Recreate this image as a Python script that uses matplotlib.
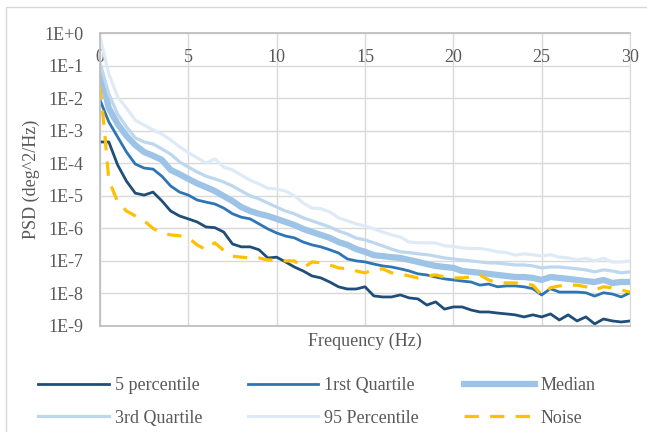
import matplotlib
matplotlib.use("Agg")
import matplotlib.pyplot as plt
from matplotlib.patches import Rectangle

# frequency grid (Hz)
freq = [0.0, 0.5, 1.0, 1.5, 2.0, 2.5, 3.0, 3.5, 4.0, 4.5,
        5.0, 5.5, 6.0, 6.5, 7.0, 7.5, 8.0, 8.5, 9.0, 9.5,
        10.0, 10.5, 11.0, 11.5, 12.0, 12.5, 13.0, 13.5, 14.0, 14.5,
        15.0, 15.5, 16.0, 16.5, 17.0, 17.5, 18.0, 18.5, 19.0, 19.5,
        20.0, 20.5, 21.0, 21.5, 22.0, 22.5, 23.0, 23.5, 24.0, 24.5,
        25.0, 25.5, 26.0, 26.5, 27.0, 27.5, 28.0, 28.5, 29.0, 29.5,
        30.0]

p5 = [4.5e-4, 4.5e-4, 8.8e-5, 2.8e-5, 1.2e-5, 1.05e-5, 1.3e-5, 7.0e-6, 3.4e-6, 2.4e-6,
      1.95e-6, 1.57e-6, 1.1e-6, 1.05e-6, 7.7e-7, 3.3e-7, 2.7e-7, 2.7e-7, 2.2e-7, 1.23e-7,
      1.3e-7, 9.3e-8, 6.5e-8, 4.9e-8, 3.45e-8, 3.0e-8, 2.25e-8, 1.6e-8, 1.37e-8, 1.37e-8,
      1.6e-8, 8.4e-9, 7.8e-9, 7.8e-9, 9.0e-9, 7.3e-9, 6.8e-9, 4.4e-9, 5.5e-9, 3.3e-9,
      3.85e-9, 3.85e-9, 3.1e-9, 2.7e-9, 2.7e-9, 2.5e-9, 2.35e-9, 2.2e-9, 1.9e-9, 2.2e-9,
      1.9e-9, 2.35e-9, 1.53e-9, 2.2e-9, 1.43e-9, 1.9e-9, 1.16e-9, 1.64e-9, 1.43e-9, 1.33e-9,
      1.43e-9]

q1 = [8.7e-3, 1.85e-3, 6.4e-4, 2.2e-4, 9.4e-5, 7.1e-5, 6.6e-5, 4.0e-5, 2.0e-5, 1.3e-5,
      1.05e-5, 7.4e-6, 6.4e-6, 5.6e-6, 4.2e-6, 2.8e-6, 2.2e-6, 1.95e-6, 1.37e-6, 9.6e-7,
      7.2e-7, 5.8e-7, 5.1e-7, 3.8e-7, 3.1e-7, 2.7e-7, 2.2e-7, 1.75e-7, 1.15e-7, 1.0e-7,
      9.3e-8, 8.0e-8, 7.0e-8, 6.5e-8, 5.7e-8, 4.9e-8, 4.0e-8, 3.7e-8, 3.2e-8, 2.8e-8,
      2.6e-8, 2.4e-8, 2.25e-8, 1.8e-8, 1.95e-8, 1.6e-8, 1.7e-8, 1.7e-8, 1.6e-8, 1.4e-8,
      9.0e-9, 1.4e-8, 1.1e-8, 1.1e-8, 1.1e-8, 1.05e-8, 8.3e-9, 1.05e-8, 9.6e-9, 7.8e-9,
      1.05e-8]

median = [7.0e-2, 4.9e-3, 1.6e-3, 6.9e-4, 3.6e-4, 2.2e-4, 1.7e-4, 1.27e-4, 6.2e-5, 4.6e-5,
          3.3e-5, 2.4e-5, 1.85e-5, 1.4e-5, 9.8e-6, 6.9e-6, 4.5e-6, 3.4e-6, 2.8e-6, 2.4e-6,
          1.95e-6, 1.57e-6, 1.27e-6, 9.6e-7, 7.7e-7, 6.3e-7, 5.1e-7, 3.8e-7, 3.1e-7, 2.3e-7,
          1.9e-7, 1.5e-7, 1.4e-7, 1.3e-7, 1.23e-7, 1.07e-7, 9.3e-8, 8.0e-8, 7.0e-8, 6.5e-8,
          6.1e-8, 4.9e-8, 4.6e-8, 4.3e-8, 4.0e-8, 3.7e-8, 3.45e-8, 3.2e-8, 3.2e-8, 3.0e-8,
          2.6e-8, 3.2e-8, 3.0e-8, 2.8e-8, 2.6e-8, 2.4e-8, 2.25e-8, 2.6e-8, 2.1e-8, 2.25e-8,
          2.25e-8]

q3 = [1.2e-1, 1.35e-2, 3.2e-3, 1.3e-3, 6.0e-4, 4.5e-4, 3.9e-4, 2.75e-4, 1.9e-4, 1.1e-4,
      7.6e-5, 5.4e-5, 4.0e-5, 3.3e-5, 2.65e-5, 2.0e-5, 1.4e-5, 1.0e-5, 8.0e-6, 6.0e-6,
      4.5e-6, 3.4e-6, 2.8e-6, 2.1e-6, 1.7e-6, 1.37e-6, 1.1e-6, 8.3e-7, 6.7e-7, 5.0e-7,
      4.4e-7, 3.6e-7, 2.9e-7, 2.3e-7, 1.9e-7, 1.8e-7, 1.65e-7, 1.55e-7, 1.4e-7, 1.23e-7,
      1.15e-7, 1.07e-7, 1.0e-7, 9.3e-8, 8.7e-8, 8.6e-8, 8.0e-8, 7.5e-8, 7.5e-8, 7.0e-8,
      6.1e-8, 6.5e-8, 6.5e-8, 6.1e-8, 5.7e-8, 5.3e-8, 4.6e-8, 5.3e-8, 4.9e-8, 4.3e-8,
      4.6e-8]

p95 = [7.5e-1, 5.5e-2, 1.1e-2, 4.9e-3, 2.1e-3, 1.48e-3, 1.05e-3, 7.9e-4, 5.2e-4, 3.2e-4,
       2.1e-4, 1.46e-4, 1.0e-4, 1.36e-4, 7.6e-5, 6.2e-5, 4.3e-5, 3.0e-5, 2.3e-5, 1.7e-5,
       1.6e-5, 1.4e-5, 1.0e-5, 6.0e-6, 4.2e-6, 4.0e-6, 3.2e-6, 2.1e-6, 1.7e-6, 1.37e-6,
       1.18e-6, 9.6e-7, 7.7e-7, 6.3e-7, 5.4e-7, 3.8e-7, 3.6e-7, 3.6e-7, 3.55e-7, 2.9e-7,
       2.8e-7, 2.5e-7, 2.4e-7, 2.4e-7, 2.2e-7, 1.9e-7, 1.8e-7, 1.5e-7, 1.65e-7, 1.55e-7,
       1.4e-7, 1.55e-7, 1.3e-7, 1.23e-7, 1.08e-7, 1.2e-7, 1.0e-7, 1.2e-7, 9.2e-8, 9.2e-8,
       1.0e-7]

noise_freq = [0.0, 0.25, 0.5, 1.0, 1.5, 2.0, 2.5, 3.0, 3.5, 4.0, 4.5,
              5.0, 5.5, 6.0, 6.5, 7.0, 7.5, 8.0, 8.5, 9.0, 9.5,
              10.0, 10.5, 11.0, 11.5, 12.0, 12.5, 13.0, 13.5, 14.0, 14.5,
              15.0, 15.5, 16.0, 16.5, 17.0, 17.5, 18.0, 18.5, 19.0, 19.5,
              20.0, 20.5, 21.0, 21.5, 22.0, 22.5, 23.0, 23.5, 24.0, 24.5,
              25.0, 25.5, 26.0, 26.5, 27.0, 27.5, 28.0, 28.5, 29.0, 29.5,
              30.0]
noise = [2.5e-2, 1.05e-3, 3.0e-5, 6.5e-6, 3.4e-6, 2.4e-6, 1.7e-6, 1.0e-6, 7.2e-7, 6.3e-7, 5.9e-7,
         5.1e-7, 3.1e-7, 2.2e-7, 3.6e-7, 2.1e-7, 1.4e-7, 1.3e-7, 1.23e-7, 1.23e-7, 1.07e-7,
         1.07e-7, 1.0e-7, 1.0e-7, 6.1e-8, 9.3e-8, 8.7e-8, 7.5e-8, 6.1e-8, 5.7e-8, 4.9e-8,
         4.3e-8, 5.3e-8, 5.7e-8, 4.3e-8, 4.0e-8, 3.45e-8, 3.0e-8, 3.45e-8, 3.7e-8, 3.2e-8,
         3.0e-8, 3.0e-8, 3.2e-8, 3.7e-8, 2.6e-8, 2.1e-8, 2.1e-8, 2.1e-8, 1.95e-8, 1.8e-8,
         9.0e-9, 1.5e-8, 1.7e-8, 1.8e-8, 1.8e-8, 1.6e-8, 1.28e-8, 1.6e-8, 1.5e-8, 1.28e-8,
         1.1e-8]

y_ticks = [1e0, 1e-1, 1e-2, 1e-3, 1e-4, 1e-5, 1e-6, 1e-7, 1e-8, 1e-9]
y_labels = ["1E+0", "1E-1", "1E-2", "1E-3", "1E-4", "1E-5", "1E-6", "1E-7", "1E-8", "1E-9"]
x_ticks = [0, 5, 10, 15, 20, 25, 30]

plt.rcParams['font.family'] = ['Liberation Serif', 'DejaVu Serif']
txt = '#595959'
fs = 13

fig = plt.figure(figsize=(6.47, 4.32), dpi=100)
fig.patches.append(Rectangle((6 / 647, -0.01), 1.0, 1.01 - 7 / 432, transform=fig.transFigure,
                             fill=False, edgecolor='#D9D9D9', lw=1.0))
ax = fig.add_axes([100 / 647, 1 - 326 / 432, 530 / 647, 293 / 432])

l5, = ax.plot(freq, p5, color='#1F4E79', lw=2.0, label='5 percentile')
lq1, = ax.plot(freq, q1, color='#2E75B6', lw=2.0, label='1rst Quartile')
lmed, = ax.plot(freq, median, color='#9DC3E6', lw=4.5, label='Median')
lq3, = ax.plot(freq, q3, color='#BDD7EE', lw=2.3, label='3rd Quartile')
l95, = ax.plot(freq, p95, color='#DEEBF7', lw=2.3, label='95 Percentile')
ln, = ax.plot(noise_freq, noise, color='#FFC000', lw=2.3, linestyle=(0, (4.5, 3.5)), label='Noise')

ax.set_yscale('log')
ax.set_ylim(1e-9, 1e0)
ax.set_xlim(0, 30)
ax.set_yticks(y_ticks)
ax.set_yticklabels(y_labels)
ax.minorticks_off()
ax.set_xticks(x_ticks)
ax.xaxis.set_ticks_position('top')
ax.tick_params(axis='x', length=0, labeltop=True, labelbottom=False, pad=-24,
               labelsize=fs, labelcolor=txt)
ax.tick_params(axis='y', length=0, pad=12, labelsize=fs, labelcolor=txt)
ax.grid(True, color='#D9D9D9', lw=1.0)
ax.set_axisbelow(True)
for s in ['left', 'bottom', 'top']:
    ax.spines[s].set_color('#BFBFBF')
    ax.spines[s].set_linewidth(1.3)
ax.spines['right'].set_color('#D9D9D9')

ax.set_xlabel('Frequency (Hz)', fontsize=fs, color=txt, labelpad=5)
ax.xaxis.set_label_position('bottom')
ax.set_ylabel('PSD (deg^2/Hz)', fontsize=fs, color=txt, labelpad=3)

# legend filled row by row, like the original
handles = [l5, lq3, lq1, l95, lmed, ln]
fig.legend(handles=handles, labels=[h.get_label() for h in handles],
           loc='upper center', bbox_to_anchor=(0.49, 1 - 361 / 432), ncol=3, frameon=False,
           fontsize=fs, labelcolor=txt, handlelength=3.9, handletextpad=0.35,
           columnspacing=2.5, labelspacing=0.85)

fig.savefig('out.png', dpi=100, facecolor='white')
